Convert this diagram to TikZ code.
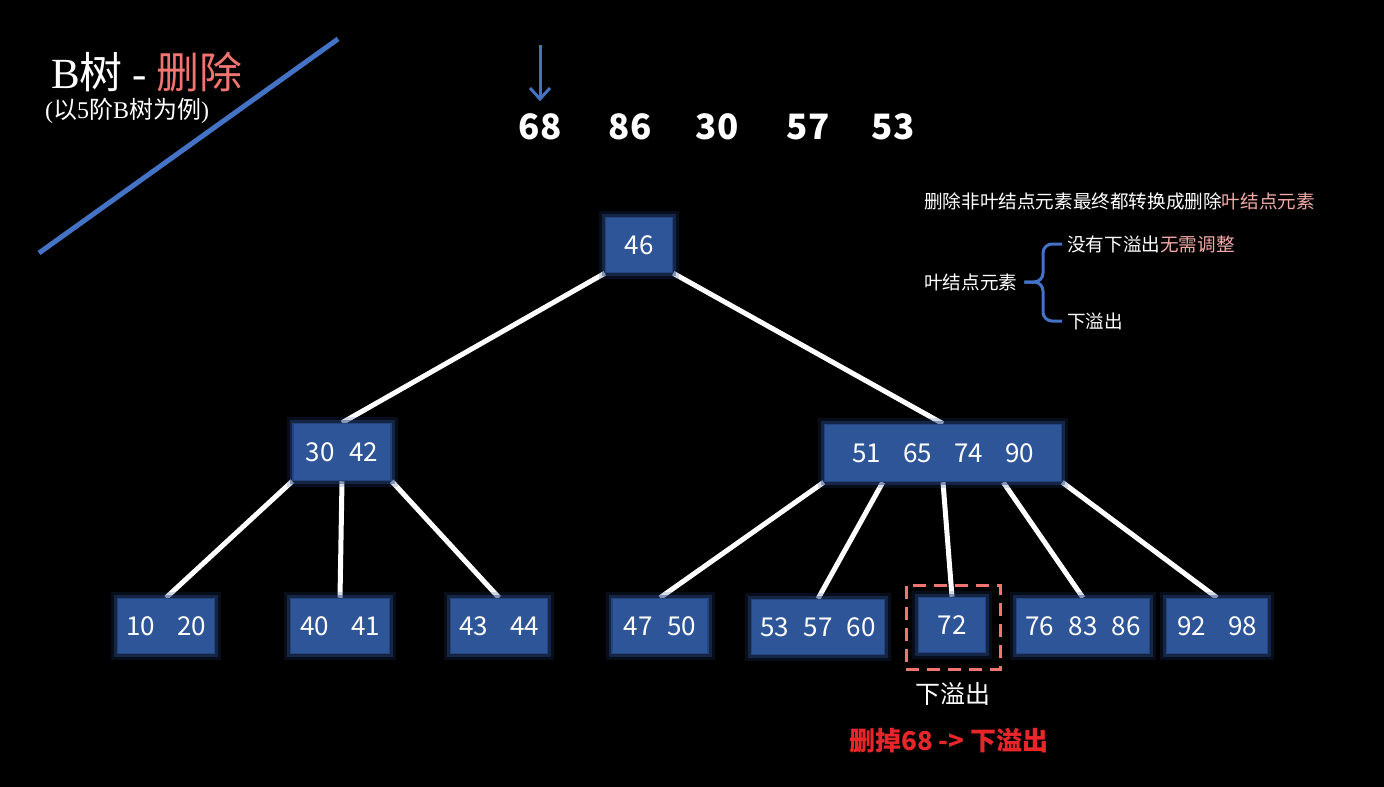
\documentclass[tikz,border=0pt]{standalone}
\usepackage{fontspec}
\setmainfont{Noto Sans CJK SC}
\newfontfamily\serif{Liberation Serif}
\usetikzlibrary{arrows.meta,positioning,backgrounds}
\definecolor{keyblue}{HTML}{2E5597}
\definecolor{glowblue}{HTML}{24447E}
\definecolor{lineblue}{HTML}{4472C4}
\definecolor{softred}{HTML}{F07470}
\definecolor{softpink}{HTML}{F3AAA8}
\definecolor{alertred}{HTML}{E8262A}
\newcommand{\fs}[1]{\fontsize{#1}{#1}\selectfont}
\newcommand{\kgap}{\hspace{0.55em}}
\newcommand{\wgap}{\hspace{0.85em}}

\begin{document}
\begin{tikzpicture}[x=1pt, y=-1pt,
  keybox/.style={rectangle, fill=keyblue, draw=glowblue, line width=1.5pt,
    preaction={draw=glowblue, line width=13pt, opacity=0.2},
    preaction={draw=glowblue, line width=7pt, opacity=0.45},
    minimum height=55, inner sep=0pt, text=white, font=\fs{26}},
  link/.style={draw=white, line width=5pt},
  seq/.style={text=white, font=\fs{35}\bfseries},
  note/.style={text=white, font=\fs{18.6}, inner sep=0pt},
  arr/.style={-{Straight Barb[length=11pt, width=20pt]}, lineblue, line width=3pt},
]
  \useasboundingbox (0,0) rectangle (1384,787);
  \begin{scope}[on background layer]
    \fill[black] (0,0) rectangle (1384,787);
  \end{scope}

  \draw[lineblue, line width=5pt] (39,253) -- (338,39);
  \node[anchor=west, text=white, inner sep=0pt, font=\fs{43}] (title) at (51,72)
    {{\serif B}树 {\serif -} \textcolor{softred}{删除}};
  \node[anchor=west, text=white, inner sep=0pt, font=\fs{24}] (subtitle) at (45,111)
    {{\serif (}以{\serif 5}阶{\serif B}树为例{\serif )}};

  \node[seq] (n68) at (540,127) {68};
  \node[seq] (n86) at (630,127) {86};
  \node[seq] (n30) at (717,127) {30};
  \node[seq] (n57) at (808,127) {57};
  \node[seq] (n53) at (893,127) {53};
  \coordinate (ptr) at (540,45);
  \draw[arr, shorten >=9pt] (ptr) -- (n68.north);

  \node[keybox, minimum width=67] (root) at (639,245) {46};
  \node[keybox, minimum width=98, minimum height=57] (left) at (342,452) {30\kgap42};
  \node[keybox, minimum width=237, minimum height=57] (right) at (943,453) {51\wgap65\wgap74\wgap90};

  \node[keybox, minimum width=97] (l1) at (166,626) {10\wgap20};
  \node[keybox, minimum width=99] (l2) at (340,626) {40\wgap41};
  \node[keybox, minimum width=97] (l3) at (499,626) {43\wgap44};
  \node[keybox, minimum width=96] (l4) at (660,626) {47\kgap50};
  \node[keybox, minimum width=133] (l5) at (818,627) {53\kgap57\kgap60};
  \node[keybox, minimum width=67] (l6) at (952,625) {72};
  \node[keybox, minimum width=133] (l7) at (1083,626) {76\kgap83\kgap86};
  \node[keybox, minimum width=101] (l8) at (1217,626) {92\wgap98};

  \begin{scope}[on background layer]
    \draw[link] (root.south west) -- (left.north);
    \draw[link] (root.south east) -- (right.north);
    \draw[link] (left.south west) -- (l1.north);
    \draw[link] (left.south) -- (l2.north);
    \draw[link] (left.south east) -- (l3.north);
    \draw[link] (right.south west) -- (l4.north);
    \draw[link] ([xshift=59pt]right.south west) -- (l5.north);
    \draw[link] (right.south) -- (l6.north);
    \draw[link] ([xshift=-59pt]right.south east) -- (l7.north);
    \draw[link] (right.south east) -- (l8.north);
  \end{scope}

  \node[draw=softred, line width=3pt, dash pattern=on 13pt off 8pt,
    minimum width=94, minimum height=84] (hole) at (953,627) {};
  \node[below=12pt of hole, text=white, inner sep=0pt, font=\fs{25}] (under) {下溢出};
  \node[text=alertred, font=\fs{26}\bfseries] (result) at (949,741) {删掉68 -> 下溢出};

  \node[note, anchor=west] (rule) at (924,201) {删除非叶结点元素最终都转换成删除\textcolor{softpink}{叶结点元素}};
  \node[note, anchor=west] (leaf) at (924,282) {叶结点元素};
  \node[note, anchor=west] (keep) at (1067,244) {没有下溢出\textcolor{softpink}{无需调整}};
  \node[note, anchor=west] (under2) at (1067,321) {下溢出};
  \draw[lineblue, line width=3pt, rounded corners=9pt]
    ([xshift=-5pt]keep.west) -- ++(-19,0) |- ([xshift=7pt]leaf.east);
  \draw[lineblue, line width=3pt, rounded corners=9pt]
    ([xshift=-5pt]under2.west) -- ++(-19,0) |- ([xshift=7pt]leaf.east);
\end{tikzpicture}
\end{document}
